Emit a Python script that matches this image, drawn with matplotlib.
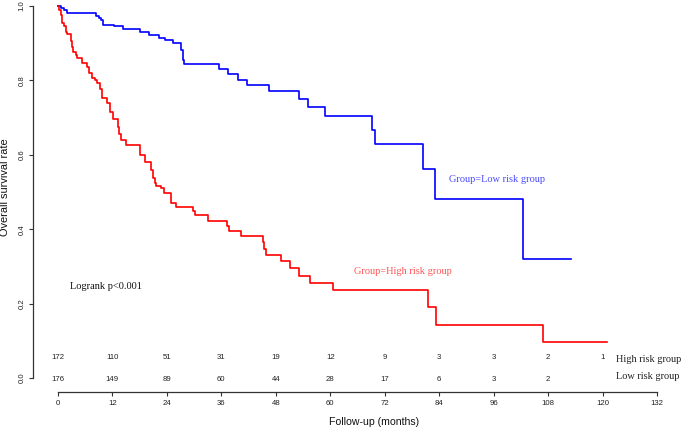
import matplotlib
matplotlib.use("Agg")
import matplotlib.pyplot as plt

# Kaplan-Meier steps: drop times (months) and survival after each drop
low_t = [0, 0.7, 1.4, 2.1, 8.4, 9.0, 9.5, 10.0, 12.3, 14.4, 18.1, 20.1, 22.3, 23.6, 25.3,
         27.1, 27.5, 27.8, 35.5, 37.5, 39.6, 41.6, 46.6, 53.1, 55.2, 58.8, 69.3, 69.9,
         80.5, 83.1, 102.5]
low_s = [1.0, 0.995, 0.989, 0.980, 0.974, 0.967, 0.961, 0.950, 0.945, 0.937, 0.930, 0.923,
         0.915, 0.909, 0.901, 0.882, 0.855, 0.844, 0.831, 0.816, 0.800, 0.788, 0.772, 0.750,
         0.728, 0.704, 0.667, 0.630, 0.561, 0.481, 0.320]
low_end = 113.0

high_t = [0, 0.3, 0.6, 0.8, 1.0, 1.3, 1.7, 2.1, 2.9, 3.1, 3.4, 3.9, 4.3, 5.4, 6.3, 6.9, 7.4,
          8.2, 8.7, 9.3, 9.6, 10.7, 11.5, 12.2, 13.3, 13.5, 14.0, 15.1, 18.1, 19.2, 20.5,
          21.0, 21.4, 21.7, 22.8, 23.4, 25.0, 26.1, 29.7, 30.2, 33.1, 37.3, 37.7, 40.3,
          45.1, 45.5, 45.8, 49.1, 51.1, 53.2, 55.5, 60.7, 81.6, 83.4, 106.8]
high_s = [1.0, 0.989, 0.976, 0.967, 0.953, 0.946, 0.931, 0.926, 0.905, 0.891, 0.877, 0.868,
          0.859, 0.846, 0.837, 0.819, 0.807, 0.801, 0.792, 0.778, 0.752, 0.740, 0.716, 0.695,
          0.676, 0.656, 0.640, 0.626, 0.600, 0.581, 0.559, 0.537, 0.523, 0.517, 0.510, 0.498,
          0.471, 0.460, 0.450, 0.438, 0.423, 0.409, 0.396, 0.382, 0.366, 0.348, 0.331, 0.315,
          0.295, 0.274, 0.256, 0.237, 0.190, 0.142, 0.096]
high_end = 120.9

# numbers at risk
risk_times = [0, 12, 24, 36, 48, 60, 72, 84, 96, 108, 120]
risk_high = [172, 110, 51, 31, 19, 12, 9, 3, 3, 2, 1]
risk_low = [176, 149, 89, 60, 44, 28, 17, 6, 3, 2]

x_ticks = list(range(0, 133, 12))
y_ticks = [0.0, 0.2, 0.4, 0.6, 0.8, 1.0]

W, H = 685, 428
fig = plt.figure(figsize=(W / 100, H / 100), dpi=100)
# axes box: left edge = y-axis line, bottom edge = x-axis line
ax = fig.add_axes([33 / W, 1 - 392 / H, (680 - 33) / W, 392 / H])
ax.set_xlim(-5.5, (680 - 58) / 4.538)
ax.set_ylim(-0.0376, 1.0161)

ax.step(low_t + [low_end], low_s + [low_s[-1]], where="post", color="#0000ff", lw=1.2)
ax.step(high_t + [high_end], high_s + [high_s[-1]], where="post", color="#ff0000", lw=1.2)

for sp in ["top", "right"]:
    ax.spines[sp].set_visible(False)
ax.spines["left"].set_bounds(0, 1)
ax.spines["bottom"].set_bounds(0, 132)
for sp in ["left", "bottom"]:
    ax.spines[sp].set_color("#333333")
    ax.spines[sp].set_linewidth(0.9)

ax.set_xticks(x_ticks)
ax.set_yticks(y_ticks)
ax.set_yticklabels([f"{v:.1f}" for v in y_ticks], rotation=90, va="center")
ax.tick_params(axis="both", length=3, width=0.8, color="#333333", labelsize=5.6,
               labelcolor="#222222", pad=2.5)

sans = "Liberation Sans"
serif = "Liberation Serif"
for lab in ax.get_xticklabels() + ax.get_yticklabels():
    lab.set_family(sans)

# numbers at risk table
for t, n in zip(risk_times, risk_high):
    ax.text(t, 0.054, str(n), ha="center", va="center", fontsize=5.6, family=sans, color="#222222")
for t, n in zip(risk_times, risk_low):
    ax.text(t, -0.003, str(n), ha="center", va="center", fontsize=5.6, family=sans, color="#222222")
ax.text(122.9, 0.049, "High risk group", ha="left", va="center", fontsize=7.4, family=serif,
        color="#222222", clip_on=False)
ax.text(122.9, 0.004, "Low risk group", ha="left", va="center", fontsize=7.4, family=serif,
        color="#222222", clip_on=False)

ax.text(86.2, 0.534, "Group=Low risk group", ha="left", va="center", fontsize=7.5,
        family=serif, color="#4a4aff")
ax.text(65.3, 0.285, "Group=High risk group", ha="left", va="center", fontsize=7.5,
        family=serif, color="#ff5555")
ax.text(2.6, 0.247, "Logrank p<0.001", ha="left", va="center", fontsize=7.5,
        family=serif, color="#111111")

fig.text(374 / W, 1 - 422 / H, "Follow-up (months)", ha="center", va="center",
         fontsize=7.6, family=sans, color="#111111")
fig.text(5.5 / W, 1 - 187 / H, "Overall survival rate", ha="center", va="center",
         rotation=90, fontsize=7.9, family=sans, color="#111111")

fig.savefig("out.png", dpi=100)
